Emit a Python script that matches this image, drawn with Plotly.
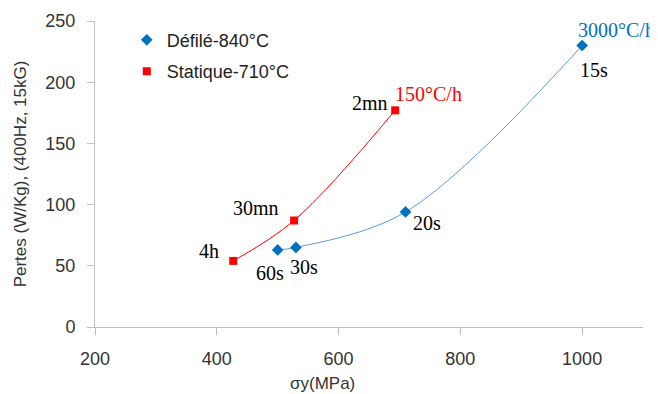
import plotly.graph_objects as go

# Data
defile_x = [500, 530, 710, 1000]
defile_y = [63, 65, 94, 230]
defile_labels = ["60s", "30s", "20s", "15s"]

statique_x = [427, 527, 693]
statique_y = [54, 87, 177]
statique_labels = ["4h", "30mn", "2mn"]

x_ticks = [200, 400, 600, 800, 1000]
y_ticks = [0, 50, 100, 150, 200, 250]

BLUE_M = "#0070C0"
BLUE_L = "#5B9BD5"
RED = "#FF0000"
SANS = "Liberation Sans, Arial, sans-serif"
SERIF = "Liberation Serif, Times New Roman, serif"

fig = go.Figure()
# trend curves
fig.add_trace(go.Scatter(x=defile_x, y=defile_y, mode="lines",
                         line=dict(color=BLUE_L, width=1, shape="spline"),
                         showlegend=False, hoverinfo="skip"))
fig.add_trace(go.Scatter(x=statique_x, y=statique_y, mode="lines",
                         line=dict(color=RED, width=1, shape="spline"),
                         showlegend=False, hoverinfo="skip"))
# markers
fig.add_trace(go.Scatter(x=defile_x, y=defile_y, mode="markers", name="Défilé-840°C",
                         legendgroup="a",
                         marker=dict(symbol="diamond", size=9, color=BLUE_M)))
fig.add_trace(go.Scatter(x=statique_x, y=statique_y, mode="markers", name="Statique-710°C",
                         legendgroup="b",
                         marker=dict(symbol="square", size=8, color=RED)))

# label annotations (label text, x, y, color)
label_pos = [
    ("60s", 487, 44, "black"),
    ("30s", 544, 49, "black"),
    ("20s", 745, 85, "black"),
    ("15s", 1019, 210, "black"),
    ("4h", 387, 62, "black"),
    ("30mn", 465, 97, "black"),
    ("2mn", 652, 183, "black"),
    ("3000°C/h", 1057, 243, BLUE_M),
    ("150°C/h", 748, 190, RED),
]
for txt, ax, ay, col in label_pos:
    fig.add_annotation(x=ax, y=ay, text=txt, showarrow=False,
                       font=dict(family=SERIF, size=20, color=col))

fig.add_annotation(x=573, y=-0.185, xref="x", yref="paper", text="σy(MPa)",
                   showarrow=False, yanchor="middle",
                   font=dict(family=SANS, size=17, color="#333333"))

axis_common = dict(showgrid=False, zeroline=False, showline=True,
                   linecolor="#BFBFBF", linewidth=1, ticks="outside",
                   ticklen=7, tickcolor="#BFBFBF", automargin=False,
                   tickfont=dict(family=SANS, size=18, color="#333333"),
                   ticklabelstandoff=8)

# page body adds an 8px offset; figure is sized to fill the rest of the window
fig.update_layout(
    width=650, height=386,
    margin=dict(l=87, r=15, t=13, b=67, autoexpand=False),
    paper_bgcolor="white", plot_bgcolor="white",
    xaxis=dict(range=[200, 1100], tickvals=x_ticks, **axis_common),
    yaxis=dict(range=[0, 250], tickvals=y_ticks,
               title=dict(text="Pertes (W/Kg), (400Hz, 15kG)",
                          font=dict(family=SANS, size=17, color="#333333"),
                          standoff=14),
               **axis_common),
    legend=dict(x=0.058, y=0.998, xanchor="left", yanchor="top",
                font=dict(family=SANS, size=18, color="#222222"),
                bgcolor="rgba(0,0,0,0)", traceorder="grouped", tracegroupgap=5),
)

fig.write_html("out.html")
